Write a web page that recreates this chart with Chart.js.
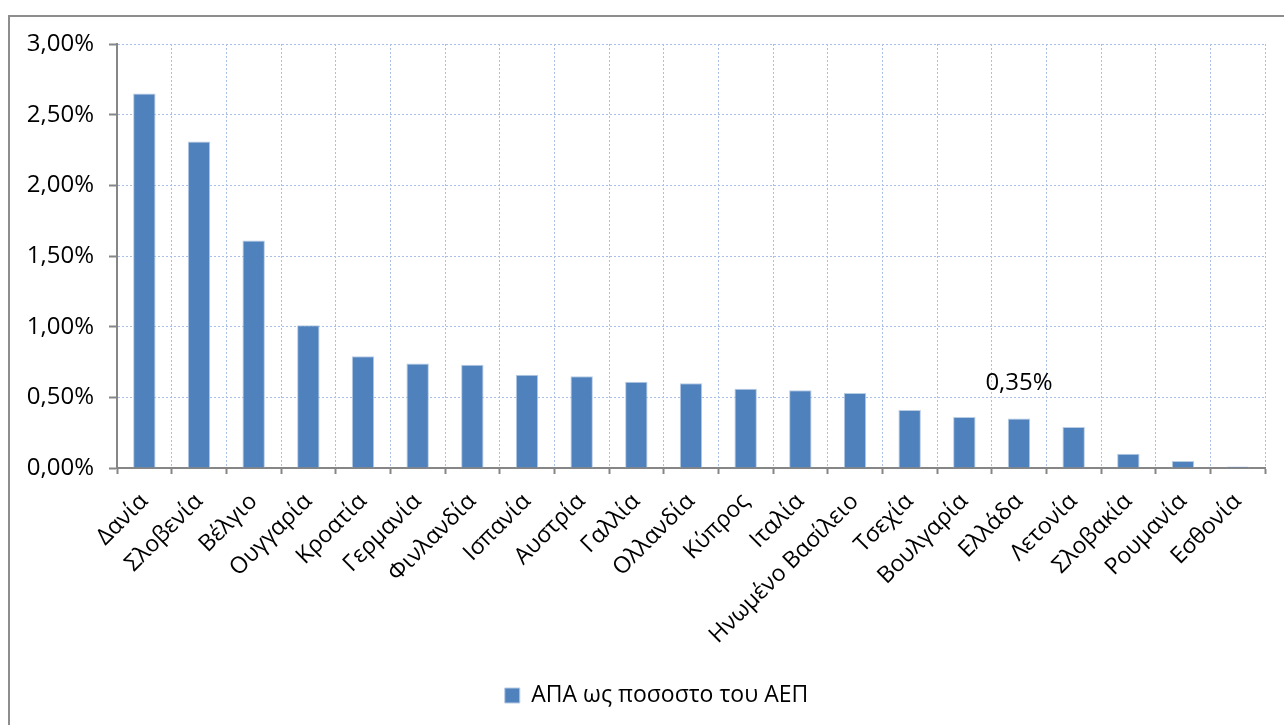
<!DOCTYPE html>
<html>
<head>
<meta charset="utf-8">
<script src="https://cdn.jsdelivr.net/npm/chart.js@4"></script>
<style>
  html, body { margin: 0; padding: 0; background: #fff; overflow: hidden; }
  #frame { position: absolute; left: 8px; top: 15px; width: 1300px; height: 800px;
           border: 2px solid #8d8d8d; box-sizing: border-box; pointer-events: none; }
  #wrap { position: absolute; left: 0; top: 0; width: 1284px; height: 725px; }
</style>
</head>
<body>
<div id="frame"></div>
<div id="wrap"><canvas id="chart"></canvas></div>
<script>
// Countries, in the order shown
const countries = ['Δανία', 'Σλοβενία', 'Βέλγιο', 'Ουγγαρία', 'Κροατία', 'Γερμανία', 'Φινλανδία',
  'Ισπανία', 'Αυστρία', 'Γαλλία', 'Ολλανδία', 'Κύπρος', 'Ιταλία', 'Ηνωμένο Βασίλειο',
  'Τσεχία', 'Βουλγαρία', 'Ελλάδα', 'Λετονία', 'Σλοβακία', 'Ρουμανία', 'Εσθονία'];

// ΑΠΑ as % of ΑΕΠ
const apaShare = [2.65, 2.31, 1.61, 1.01, 0.79, 0.74, 0.73,
  0.66, 0.65, 0.61, 0.60, 0.56, 0.55, 0.53,
  0.41, 0.36, 0.35, 0.29, 0.10, 0.05, 0.01];

// Only Greece carries a data label
const labelledIndex = [16];

const seriesName = 'ΑΠΑ ως ποσοστο του ΑΕΠ';
const yMin = 0, yMax = 3, yStep = 0.5;

const FONT = '"Open Sans", "Noto Sans", sans-serif';
const fmt = v => v.toFixed(2).replace('.', ',') + '%';

Chart.defaults.color = '#000';
Chart.defaults.font.family = FONT;

// Draw the single data label above the Greece bar,
// and nudge the legend right so it sits where the original has it
const pointLabel = {
  id: 'pointLabel',
  afterLayout(chart) {
    if (chart.legend) { chart.legend.left += 24; chart.legend.right += 24; }
  },
  afterDatasetsDraw(chart) {
    const ctx = chart.ctx;
    const meta = chart.getDatasetMeta(0);
    ctx.save();
    ctx.font = '24px ' + FONT;
    ctx.fillStyle = '#000';
    ctx.textAlign = 'center';
    ctx.textBaseline = 'middle';
    for (const i of labelledIndex) {
      const bar = meta.data[i];
      ctx.fillText(fmt(apaShare[i]), bar.x, bar.y - 35);
    }
    ctx.restore();
  }
};

new Chart(document.getElementById('chart'), {
  type: 'bar',
  data: {
    labels: countries,
    datasets: [{
      label: seriesName,
      data: apaShare,
      backgroundColor: '#4f81bd',
      borderColor: '#b8cce4',
      borderWidth: 1,
      barPercentage: 0.41,
      categoryPercentage: 1
    }]
  },
  options: {
    responsive: true,
    maintainAspectRatio: false,
    animation: false,
    layout: { padding: { left: 0, right: 19, top: 44, bottom: 8 } },
    plugins: {
      tooltip: { enabled: false },
      legend: {
        position: 'bottom',
        labels: { boxWidth: 15, boxHeight: 15, padding: 8, font: { size: 23 } }
      }
    },
    scales: {
      x: {
        afterFit(scale) { scale.height = 208; },
        grid: { color: '#a9bfe6', offset: true, tickLength: 6, tickColor: '#868686', tickWidth: 2 },
        border: { color: '#868686', width: 2, dash: [2, 2] },
        ticks: { font: { size: 23 }, minRotation: 45, maxRotation: 45, autoSkip: false, padding: 14 }
      },
      y: {
        min: yMin, max: yMax,
        afterFit(scale) { scale.width = 117; },
        grid: { color: '#a9bfe6', tickLength: 8, tickColor: '#868686', tickWidth: 2 },
        border: { color: '#868686', width: 2, dash: [2, 2] },
        ticks: { stepSize: yStep, font: { size: 24 }, padding: 15, callback: v => fmt(v) }
      }
    }
  },
  plugins: [pointLabel]
});
</script>
</body>
</html>
